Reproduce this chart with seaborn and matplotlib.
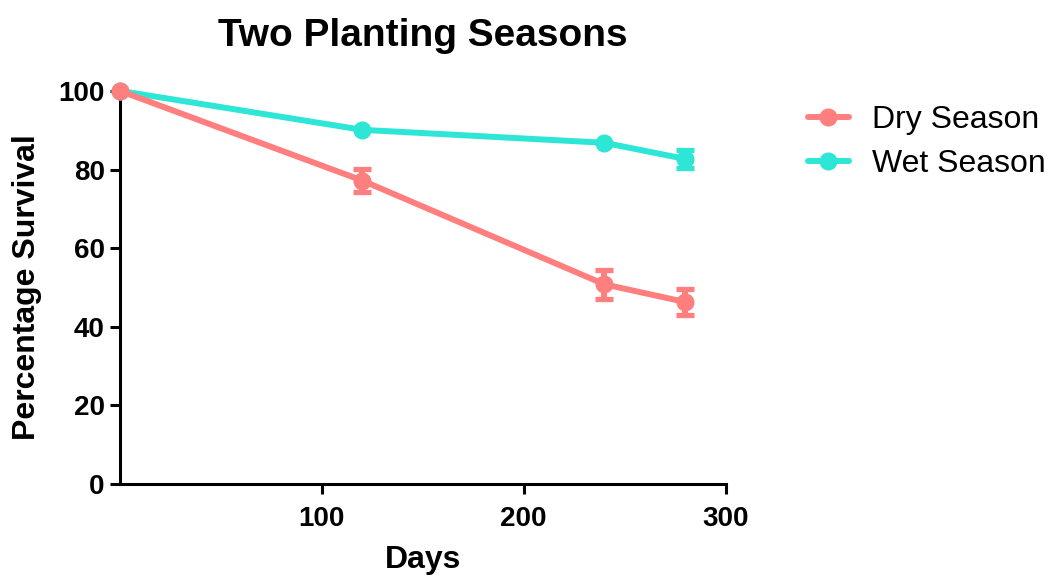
import numpy as np
import pandas as pd
import matplotlib
matplotlib.use("Agg")
import matplotlib.pyplot as plt
import seaborn as sns

# Survival data for the two planting seasons (mean and SEM)
days = [0, 120, 240, 280]
dry_survival = [100.0, 77.2, 50.8, 46.3]
dry_sem = [0.0, 3.0, 3.7, 3.4]
wet_survival = [100.0, 90.1, 86.8, 82.7]
wet_sem = [0.0, 0.0, 0.0, 2.2]
seasons = ["Dry Season", "Wet Season"]
x_ticks = [100, 200, 300]
y_ticks = [0, 20, 40, 60, 80, 100]

colors = {"Dry Season": "#FF7F7F", "Wet Season": "#2EE6D6"}

sns.set_theme(style="ticks")
plt.rcParams["font.family"] = ["Liberation Sans", "DejaVu Sans"]
plt.rcParams["text.color"] = "black"
plt.rcParams["axes.labelcolor"] = "black"
plt.rcParams["xtick.color"] = "black"
plt.rcParams["ytick.color"] = "black"

df = pd.DataFrame({
    "Days": days * 2,
    "Survival": dry_survival + wet_survival,
    "Season": [seasons[0]] * len(days) + [seasons[1]] * len(days),
})

fig = plt.figure(figsize=(10.53, 5.79), dpi=100)
ax = fig.add_axes([0.114, 0.164, 0.575, 0.679])

lw = 4.3
ms = 13

sns.lineplot(data=df, x="Days", y="Survival", hue="Season",
             hue_order=seasons[::-1], palette=colors,
             marker="o", markersize=ms, markeredgewidth=0,
             linewidth=lw, ax=ax, legend=False, clip_on=False)

# dry series sits on top of the wet series
for line in ax.lines:
    if line.get_color().lower() == colors["Dry Season"].lower():
        line.set_zorder(5)
    else:
        line.set_zorder(3)

for name, vals, err, z in [("Wet Season", wet_survival, wet_sem, 2.5),
                           ("Dry Season", dry_survival, dry_sem, 4.5)]:
    keep = [i for i, e in enumerate(err) if e > 0]
    ax.errorbar([days[i] for i in keep], [vals[i] for i in keep],
                yerr=[err[i] for i in keep], fmt="none",
                ecolor=colors[name], elinewidth=lw, capsize=6.3,
                capthick=3.8, zorder=z, clip_on=False)

ax.set_xlim(0, 300)
ax.set_ylim(0, 100)
ax.set_xticks(x_ticks)
ax.set_yticks(y_ticks)

for s in ["top", "right"]:
    ax.spines[s].set_visible(False)
for s in ["left", "bottom"]:
    ax.spines[s].set_linewidth(2.2)
    ax.spines[s].set_color("black")

ax.tick_params(axis="both", length=7, width=2.2, color="black",
               labelcolor="black", labelsize=20)
ax.tick_params(axis="x", pad=9)
ax.tick_params(axis="y", pad=4)
for lab in ax.get_xticklabels() + ax.get_yticklabels():
    lab.set_fontweight("bold")

ax.set_xlabel("Days", fontsize=23, fontweight="bold", labelpad=9,
              color="black")
ax.set_ylabel("Percentage Survival", fontsize=23, fontweight="bold",
              labelpad=12, color="black")
ax.set_title("Two Planting Seasons", fontsize=28, fontweight="bold",
             pad=32, color="black")

handles = [plt.Line2D([], [], color=colors[s], marker="o", markersize=ms,
                      markeredgewidth=0, linewidth=lw) for s in seasons]
fig.legend(handles, seasons, loc="center left",
           bbox_to_anchor=(0.767, 0.755), frameon=False, fontsize=23,
           handlelength=1.3, handletextpad=0.7, labelspacing=0.43,
           borderpad=0, borderaxespad=0, labelcolor="black")

fig.savefig("out.png", dpi=100)
